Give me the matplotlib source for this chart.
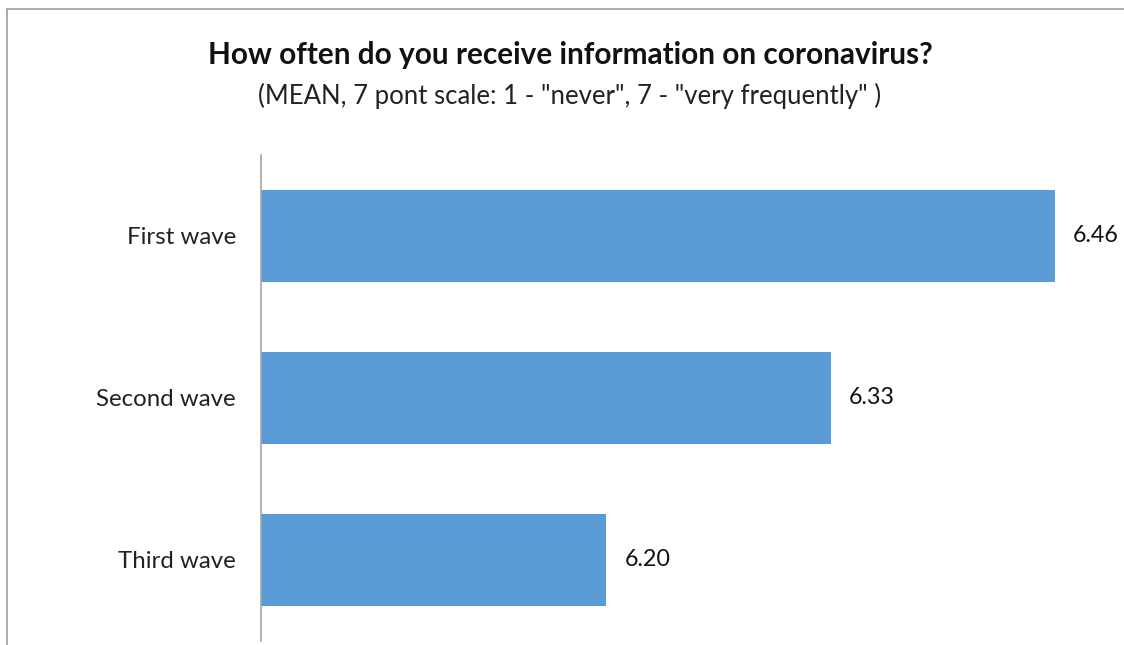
import matplotlib
matplotlib.use("Agg")
import matplotlib.pyplot as plt
from matplotlib.lines import Line2D

categories = ["First wave", "Second wave", "Third wave"]
values = [6.46, 6.33, 6.20]
value_labels = ["6.46", "6.33", "6.20"]
title = "How often do you receive information on coronavirus?"
subtitle = '(MEAN, 7 pont scale: 1 - "never", 7 - "very frequently" )'

plt.rcParams['font.family'] = ['Lato', 'DejaVu Sans']

W, H = 1124, 645
fig = plt.figure(figsize=(W/100, H/100), dpi=100)
fig.patch.set_facecolor('white')

# axes: x from 261 to 1124 px, y from 155 to 641 px
ax = fig.add_axes([261/W, 1-641/H, (1124-261)/W, (641-155)/H])
ypos = list(range(len(categories)))
ax.barh(ypos, [v - 6.0 for v in values], left=6.0, height=0.57, color='#5b9bd5')
ax.set_xlim(6.0, 6.5)
ax.set_ylim(2.5, -0.5)
ax.set_yticks(ypos)
ax.set_yticklabels(categories, fontsize=17.3, color='#222222')
ax.tick_params(axis='y', length=0, pad=18)
ax.set_xticks([])
for s in ['top', 'right', 'bottom']:
    ax.spines[s].set_visible(False)
ax.spines['left'].set_color('#a6a6a6')
ax.spines['left'].set_linewidth(1.2)
ax.set_facecolor('none')

for y, v, lab in zip(ypos, values, value_labels):
    ax.annotate(lab, (v, y), xytext=(13, 0), textcoords='offset points',
                ha='left', va='center', fontsize=16.8, color='#111111')

# title
fig.text(570/W, 1-55/H, title, ha='center', va='center', fontsize=21.4,
         fontweight='bold', color='#111111')
fig.text(570/W, 1-96/H, subtitle, ha='center', va='center', fontsize=18.5,
         color='#222222')

# outer border (cropped chart frame)
fig.add_artist(Line2D([7/W, 7/W], [0, 1-9/H], transform=fig.transFigure,
                      color='#a6a6a6', lw=1.3))
fig.add_artist(Line2D([7/W, 1], [1-9/H, 1-9/H], transform=fig.transFigure,
                      color='#a6a6a6', lw=1.3))

fig.savefig('out.png', dpi=100)
